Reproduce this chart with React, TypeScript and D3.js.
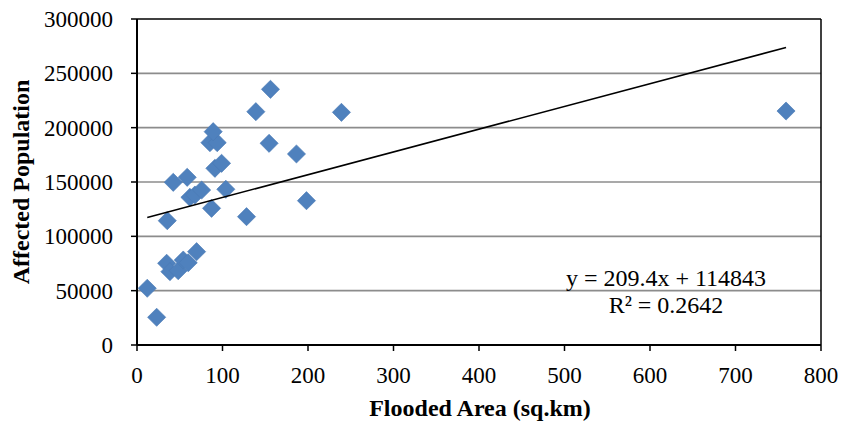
import React from "react";
import * as d3 from "d3";

const floodedArea = [
  12.0, 23.0, 35.4, 42.4, 58.7, 34.7, 38.5, 48.2, 54.1, 59.9, 69.7, 61.9, 67.7, 75.6,
  87.2, 103.9, 91.1, 98.9, 85.3, 93.8, 89.1, 128.1, 139.0, 156.1, 154.5, 186.5, 198.2,
  239.1, 759.1,
];
const affectedPopulation = [
  52200, 25500, 114400, 149700, 154300, 75200, 67500, 68400, 78200, 75700, 85900,
  135900, 138000, 142600, 125800, 143300, 162600, 167200, 186200, 186200, 196300,
  118100, 214700, 235300, 185600, 175800, 132800, 214100, 215300,
];
const xTicks = [0, 100, 200, 300, 400, 500, 600, 700, 800];
const yTicks = [0, 50000, 100000, 150000, 200000, 250000, 300000];
const trendSlope = 209.4;
const trendIntercept = 114843;
const equationText = "y = 209.4x + 114843";
const r2Text = "R² = 0.2642";
const xTitle = "Flooded Area (sq.km)";
const yTitle = "Affected Population";

const W = 855;
const H = 423;
const L = 137;
const R = 821;
const T = 19;
const B = 345;
const FONT = "'Liberation Serif', 'Times New Roman', serif";

export default function App() {
  const x = d3.scaleLinear().domain([0, 800]).range([L, R]);
  const y = d3.scaleLinear().domain([0, 300000]).range([B, T]);
  const pts = floodedArea.map((v, i) => ({ x: v, y: affectedPopulation[i] }));
  const xMin = d3.min(floodedArea) as number;
  const xMax = d3.max(floodedArea) as number;
  const trend = d3.line<number>()
    .x((d) => x(d))
    .y((d) => y(trendSlope * d + trendIntercept));
  const diamond = d3.symbol().type(d3.symbolSquare).size(165)() as string;

  return (
    <svg
      width={W}
      height={H}
      style={{ position: "absolute", left: 0, top: 0, background: "#fff" }}
      fontFamily={FONT}
    >
      {yTicks.map((t) => (
        <g key={"gy" + t}>
          {t > 0 && t < 300000 && (
            <line x1={L} x2={R} y1={y(t)} y2={y(t)} stroke="#8c8c8c" strokeWidth={1.6} />
          )}
          <line x1={L - 6} x2={L} y1={y(t)} y2={y(t)} stroke="#000" strokeWidth={1.5} />
          <text x={113} y={y(t)} dy="0.35em" textAnchor="end" fontSize={23} fill="#000">
            {t}
          </text>
        </g>
      ))}
      {xTicks.map((t) => (
        <g key={"gx" + t}>
          <line x1={x(t)} x2={x(t)} y1={B} y2={B + 6} stroke="#000" strokeWidth={1.5} />
          <text x={x(t)} y={383} textAnchor="middle" fontSize={23} fill="#000">
            {t}
          </text>
        </g>
      ))}
      {/* frame */}
      <line x1={L} x2={R} y1={T} y2={T} stroke="#000" strokeWidth={1.5} />
      <line x1={R} x2={R} y1={T} y2={B} stroke="#000" strokeWidth={1.5} />
      <line x1={L} x2={R} y1={B} y2={B} stroke="#000" strokeWidth={2} />
      <line x1={L} x2={L} y1={T} y2={B} stroke="#000" strokeWidth={2} />

      {pts.map((p, i) => (
        <path
          key={"p" + i}
          d={diamond}
          transform={`translate(${x(p.x)},${y(p.y)}) rotate(45)`}
          fill="#4f81bd"
          stroke="#4a7ab5"
          strokeWidth={0.6}
        />
      ))}

      <path d={trend([xMin, xMax]) as string} fill="none" stroke="#000" strokeWidth={1.6} />

      <text x={666} y={286} textAnchor="middle" fontSize={24} fill="#000">
        {equationText}
      </text>
      <text x={666} y={313} textAnchor="middle" fontSize={24} fill="#000">
        {r2Text}
      </text>

      <text x={480} y={416} textAnchor="middle" fontSize={24} fontWeight="bold" fill="#000">
        {xTitle}
      </text>
      <text
        transform={`translate(28.5,${(T + B) / 2}) rotate(-90)`}
        textAnchor="middle"
        fontSize={24}
        fontWeight="bold"
        fill="#000"
      >
        {yTitle}
      </text>
    </svg>
  );
}
